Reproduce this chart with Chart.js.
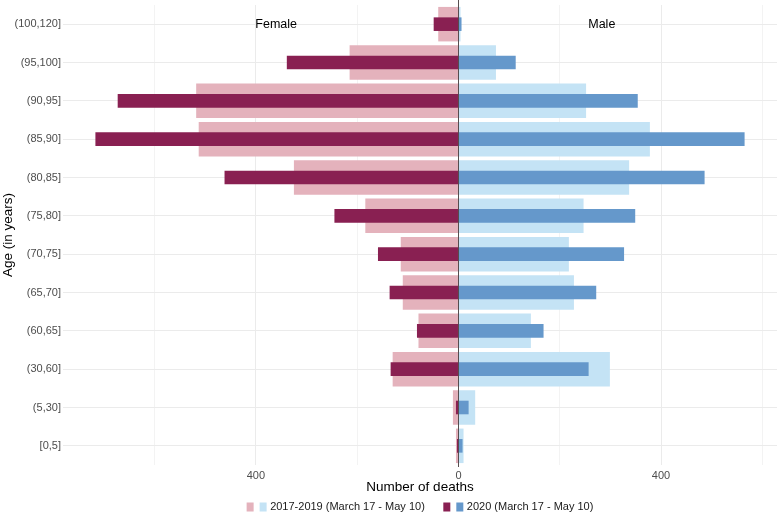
<!DOCTYPE html>
<html>
<head>
<meta charset="utf-8">
<script src="https://cdn.jsdelivr.net/npm/chart.js@4"></script>
<style>
  html, body { margin: 0; padding: 0; background: #ffffff; }
  canvas { display: block; }
</style>
</head>
<body>
<canvas id="c" width="778" height="515"></canvas>
<script>
// Age groups, top to bottom
const categories = ['(100,120]','(95,100]','(90,95]','(85,90]','(80,85]','(75,80]','(70,75]','(65,70]','(60,65]','(30,60]','(5,30]','[0,5]'];
// Number of deaths
const female2017_2019 = [40, 215, 518, 513, 325, 184, 114, 110, 79, 130, 11, 5];
const female2020      = [49, 339, 673, 717, 462, 245, 159, 136, 82, 134, 5, 3];
const male2017_2019   = [4, 74, 252, 378, 337, 247, 218, 228, 143, 299, 33, 10];
const male2020        = [6, 113, 354, 565, 486, 349, 327, 272, 168, 257, 20, 8];
const xTickValues = [-600, -400, -200, 0, 200, 400, 600];
const xLabelled = [-400, 0, 400];
const legendLabels = ['2017-2019 (March 17 - May 10)', '2020 (March 17 - May 10)'];
const sideLabels = ['Female', 'Male'];

const C = {
  pinkLight: '#e4b2bc',
  pinkDark: '#892052',
  blueLight: '#c4e3f5',
  blueDark: '#6598cb'
};
const FONT = "'Liberation Sans', Arial, Helvetica, sans-serif";

const overlayPlugin = {
  id: 'overlay',
  afterDatasetsDraw(chart) {
    const {ctx, chartArea, scales} = chart;
    const x0 = Math.round(scales.x.getPixelForValue(0)) + 0.5;
    ctx.save();
    ctx.strokeStyle = 'rgba(70,60,62,0.9)';
    ctx.lineWidth = 1;
    ctx.beginPath();
    ctx.moveTo(x0, 0);
    ctx.lineTo(x0, chartArea.bottom + 2);
    ctx.stroke();
    // Female / Male annotations
    ctx.fillStyle = '#000';
    ctx.font = '12.5px ' + FONT;
    ctx.textAlign = 'center';
    ctx.textBaseline = 'middle';
    const yTop = scales.y.getPixelForValue(0);
    ctx.fillText(sideLabels[0], scales.x.getPixelForValue(-360), yTop);
    ctx.fillText(sideLabels[1], scales.x.getPixelForValue(283), yTop);
    ctx.restore();
  },
  afterDraw(chart) {
    const {ctx, chartArea} = chart;
    ctx.save();
    ctx.font = '11px ' + FONT;
    ctx.textBaseline = 'middle';
    ctx.textAlign = 'left';
    const bw = 7, bh = 9, gapBox = 6, gapText = 3.5, gapGroup = 18.5;
    const t1 = ctx.measureText(legendLabels[0]).width;
    const t2 = ctx.measureText(legendLabels[1]).width;
    const total = bw + gapBox + bw + gapText + t1 + gapGroup + bw + gapBox + bw + gapText + t2;
    let x = (chartArea.left + chartArea.right) / 2 - total / 2;
    const yc = 507;
    const groups = [[C.pinkLight, C.blueLight, legendLabels[0], t1], [C.pinkDark, C.blueDark, legendLabels[1], t2]];
    groups.forEach((g) => {
      ctx.fillStyle = g[0];
      ctx.fillRect(x, yc - bh / 2, bw, bh);
      x += bw + gapBox;
      ctx.fillStyle = g[1];
      ctx.fillRect(x, yc - bh / 2, bw, bh);
      x += bw + gapText;
      ctx.fillStyle = '#1a1a1a';
      ctx.fillText(g[2], x, yc);
      x += g[3] + gapGroup;
    });
    ctx.restore();
  }
};

new Chart(document.getElementById('c'), {
  type: 'bar',
  data: {
    labels: categories,
    datasets: [
      { label: 'Female 2020', data: female2020.map(v => -v), backgroundColor: C.pinkDark, barPercentage: 0.355, categoryPercentage: 1, grouped: false, order: 0 },
      { label: 'Male 2020', data: male2020, backgroundColor: C.blueDark, barPercentage: 0.355, categoryPercentage: 1, grouped: false, order: 0 },
      { label: 'Female 2017-2019', data: female2017_2019.map(v => -v), backgroundColor: C.pinkLight, barPercentage: 0.9, categoryPercentage: 1, grouped: false, order: 1 },
      { label: 'Male 2017-2019', data: male2017_2019, backgroundColor: C.blueLight, barPercentage: 0.9, categoryPercentage: 1, grouped: false, order: 1 }
    ]
  },
  options: {
    indexAxis: 'y',
    responsive: false,
    animation: false,
    layout: { padding: { top: 5, right: 1, left: 0, bottom: 0 } },
    plugins: { legend: { display: false }, tooltip: { enabled: false } },
    scales: {
      x: {
        type: 'linear',
        min: -781,
        max: 629,
        afterBuildTicks: (scale) => { scale.ticks = xTickValues.map(v => ({ value: v })); },
        afterFit: (scale) => { scale.height = 50; scale.paddingLeft = 0; scale.paddingRight = 0; },
        border: { display: false },
        grid: {
          drawTicks: false,
          color: (ctx) => (ctx.tick && xLabelled.includes(ctx.tick.value)) ? '#ebebeb' : '#f3f3f3',
          lineWidth: 1
        },
        ticks: {
          padding: 4,
          color: '#4d4d4d',
          font: { family: FONT, size: 11 },
          autoSkip: false,
          maxRotation: 0,
          callback: (v) => xLabelled.includes(v) ? String(Math.abs(v)) : ''
        },
        title: {
          display: true,
          text: 'Number of deaths',
          color: '#000',
          font: { family: FONT, size: 13.5 },
          padding: { top: 0, bottom: 20 }
        }
      },
      y: {
        type: 'category',
        afterFit: (scale) => { scale.width = 63; scale.paddingTop = 0; scale.paddingBottom = 0; },
        border: { display: false },
        grid: { drawTicks: false, color: '#ebebeb', lineWidth: 1, offset: false },
        ticks: {
          padding: 2,
          color: '#4d4d4d',
          font: { family: FONT, size: 11 }
        },
        title: {
          display: true,
          text: 'Age (in years)',
          color: '#000',
          font: { family: FONT, size: 13.5 },
          padding: { top: 0, bottom: 0 }
        }
      }
    }
  },
  plugins: [overlayPlugin]
});
</script>
</body>
</html>
